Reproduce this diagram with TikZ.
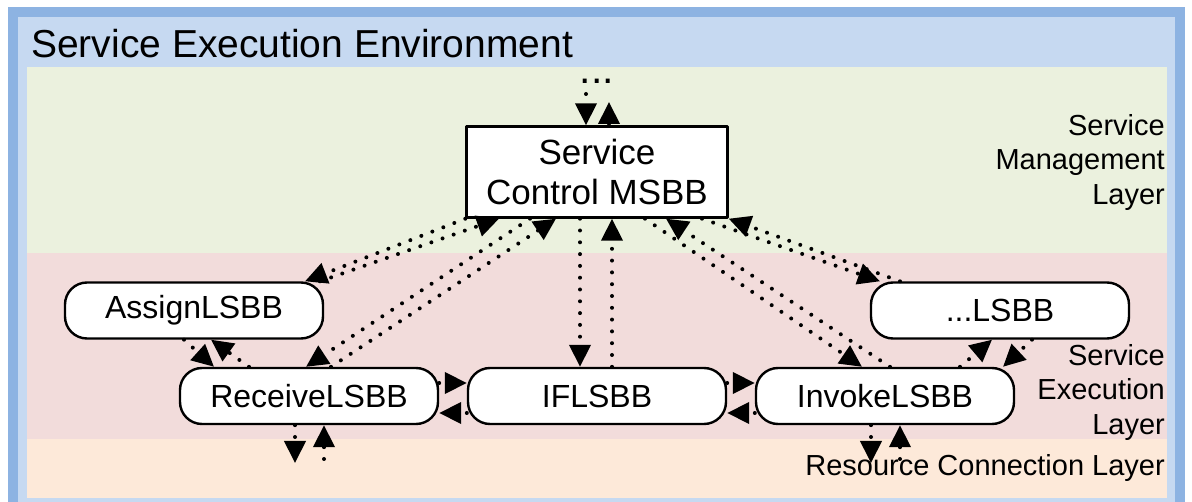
\documentclass[tikz,border=0pt]{standalone}
\usepackage{fontspec}
\setmainfont{Liberation Sans}
\usetikzlibrary{arrows.meta}

\definecolor{envborder}{HTML}{8DB3E2}
\definecolor{envfill}{HTML}{C6D9F1}
\definecolor{mgmtfill}{HTML}{EBF1DE}
\definecolor{execfill}{HTML}{F2DCDB}
\definecolor{resfill}{HTML}{FDE9D9}

\begin{document}
\begin{tikzpicture}[x=1pt,y=1pt,line cap=round,line join=round,
    msbbbox/.style={draw,line width=2.4pt,fill=white,minimum width=261pt,minimum height=91pt,
      inner sep=0pt,align=center,font=\fontsize{35}{40}\selectfont},
    lsbb/.style={draw,line width=2.4pt,fill=white,rounded corners=22pt,minimum width=258pt,
      minimum height=56pt,inner sep=0pt,font=\fontsize{32}{38}\selectfont},
    layerlabel/.style={inner sep=0pt,align=right,font=\fontsize{29}{34.5}\selectfont},
    flow/.style={line width=4pt,dash pattern=on 0pt off 11.8pt,-{Triangle[width=21pt,length=22pt]}}]
  \useasboundingbox (0,0) rectangle (1192,501);
  \clip (0,0) rectangle (1192,501);
  % environment and layers
  \fill[envborder] (8,-10) rectangle (1185,494);
  \fill[envfill] (18,-10) rectangle (1175,484);
  \fill[mgmtfill] (27,248) rectangle (1167,434);
  \fill[execfill] (27,62) rectangle (1167,248);
  \fill[resfill] (27,3) rectangle (1167,62);
  \node[anchor=base west,inner sep=0pt,font=\fontsize{39}{44}\selectfont] (envtitle) at (31,443) {Service Execution Environment};
  \node[layerlabel,anchor=north east] (mgmtlabel) at (1165,387) {Service\\Management\\Layer};
  \node[layerlabel,anchor=north east] (execlabel) at (1165,157) {Service\\Execution\\Layer};
  \node[layerlabel,anchor=base east] (reslabel) at (1165,26) {Resource Connection Layer};
  \node[anchor=base,inner sep=0pt,font=\fontsize{41}{41}\selectfont] (moretop) at (597,417) {...};
  % building blocks
  \node[msbbbox] (msbb) at (597,329) {Service\\Control MSBB};
  \node[lsbb] (assign) at (194,190.5) {AssignLSBB};
  \node[lsbb] (receive) at (309,105) {ReceiveLSBB};
  \node[lsbb] (iflsbb) at (597,105) {IFLSBB};
  \node[lsbb] (invoke) at (885,105) {InvokeLSBB};
  \node[lsbb] (morelsbb) at (1000,190.5) {...LSBB};
  % free ends
  \coordinate (upin) at (586,407);
  \coordinate (upout) at (609,399);
  \coordinate (recout) at (295,38);
  \coordinate (recin) at (324,42);
  \coordinate (invout) at (871,38);
  \coordinate (invin) at (900,42);
  % connectors
  \draw[flow] (upin) -- ([xshift=-11pt]msbb.north);
  \draw[flow] ([xshift=12pt]msbb.north) -- (upout);
  \draw[flow] (msbb.south west) -- ([xshift=111pt]assign.north);
  \draw[flow] ([xshift=126pt]assign.north) -- ([xshift=-98pt]msbb.south);
  \draw[flow] ([xshift=-67pt]msbb.south) -- ([xshift=-3pt]receive.north);
  \draw[flow] ([xshift=22pt]receive.north) -- ([xshift=-41pt]msbb.south);
  \draw[flow] ([xshift=-17pt]msbb.south) -- ([xshift=-17pt]iflsbb.north);
  \draw[flow] ([xshift=15pt]iflsbb.north) -- ([xshift=15pt]msbb.south);
  \draw[flow] ([xshift=48pt]msbb.south) -- ([xshift=-23pt]invoke.north);
  \draw[flow] ([xshift=5pt]invoke.north) -- ([xshift=69pt]msbb.south);
  \draw[flow] ([xshift=105pt]msbb.south) -- ([xshift=-120pt]morelsbb.north);
  \draw[flow] ([xshift=-100pt]morelsbb.north) -- (msbb.south east);
  \draw[flow] ([xshift=-10pt]assign.south) -- ([xshift=-95pt]receive.north);
  \draw[flow] ([xshift=-60pt]receive.north) -- ([xshift=17pt]assign.south);
  \draw[flow] ([yshift=13pt]receive.east) -- ([yshift=13pt]iflsbb.west);
  \draw[flow] ([yshift=-17pt]iflsbb.west) -- ([yshift=-17pt]receive.east);
  \draw[flow] ([yshift=13pt]iflsbb.east) -- ([yshift=13pt]invoke.west);
  \draw[flow] ([yshift=-17pt]invoke.west) -- ([yshift=-17pt]iflsbb.east);
  \draw[flow] ([xshift=75pt]invoke.north) -- ([xshift=-8pt]morelsbb.south);
  \draw[flow] ([xshift=32pt]morelsbb.south) -- ([xshift=118pt]invoke.north);
  \draw[flow] ([xshift=-14pt]receive.south) -- (recout);
  \draw[flow] (recin) -- ([xshift=15pt]receive.south);
  \draw[flow] ([xshift=-14pt]invoke.south) -- (invout);
  \draw[flow] (invin) -- ([xshift=15pt]invoke.south);
\end{tikzpicture}
\end{document}
